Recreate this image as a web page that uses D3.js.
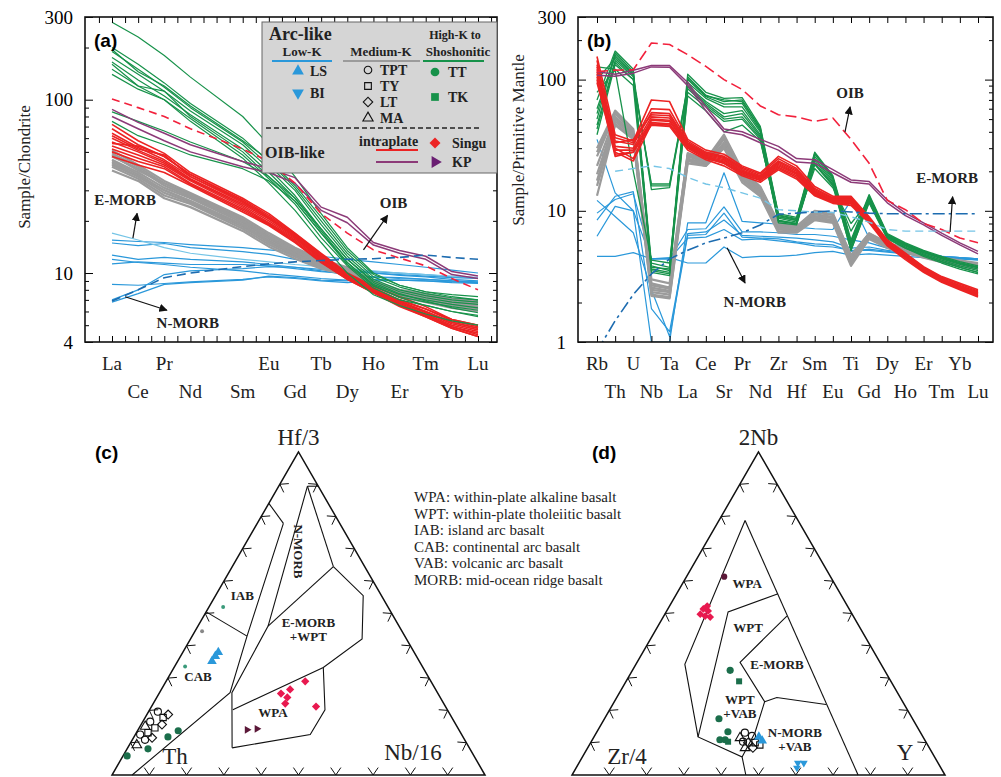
<!DOCTYPE html>
<html>
<head>
<meta charset="utf-8">
<script src="https://cdn.jsdelivr.net/npm/d3@7"></script>
<style>
  body { margin: 0; background: #fff; }
  svg text { font-family: "Liberation Serif", "Times New Roman", serif; }
</style>
</head>
<body>
<div class="container"></div>
<script>
// ---------- (a) chondrite-normalised REE ----------
const reeElements = ['La', 'Ce', 'Pr', 'Nd', 'Pm', 'Sm', 'Eu', 'Gd', 'Tb', 'Dy', 'Ho', 'Er', 'Tm', 'Yb', 'Lu'];
const reeSampled = ['La', 'Ce', 'Pr', 'Nd', 'Sm', 'Eu', 'Gd', 'Tb', 'Dy', 'Ho', 'Er', 'Tm', 'Yb', 'Lu'];
const reeTopLabels = ['La', 'Pr', 'Eu', 'Tb', 'Ho', 'Tm', 'Lu'];
const reeBottomLabels = ['Ce', 'Nd', 'Sm', 'Gd', 'Dy', 'Er', 'Yb'];
const chondriteTicks = [4, 10, 100, 300];
const chondriteMinor = [5, 6, 7, 8, 9, 20, 30, 40, 50, 60, 70, 80, 90, 200];

const reeLowK = [
  [15.5, 15.2, 15, 14.6, 14, 13.6, 13.2, 12.5, 12, 11.6, 11.2, 10.8, 10.4, 10],
  [14.9, 14.4, 14.8, 14, 13.3, 12.8, 12, 11.2, 10.5, 10, 9.7, 9.5, 9.2, 9.0],
  [12.7, 12.0, 12.3, 12, 11.6, 11.2, 10.8, 10.3, 9.8, 9.5, 9.3, 9.2, 9.0, 8.8],
  [12.0, 11.5, 11.2, 10.8, 10.3, 9.9, 9.6, 9.3, 9.1, 9.2, 9.1, 9.0, 8.9, 8.8],
  [8.6, 8.5, 8.7, 8.9, 9.2, 9.5, 9.3, 9.0, 8.8, 9.0, 9.1, 9.0, 8.8, 8.7],
  [6.8, 7.6, 8.6, 8.8, 9.1, 9.6, 9.4, 9.1, 9.0, 9.5, 9.4, 9.2, 9.0, 8.9],
  [7.0, 8.0, 9.8, 10.3, 10.6, 10.9, 10.8, 10.5, 10.2, 10.0, 9.8, 9.6, 9.4, 9.3],
  [11.3, 11.6, 11.4, 11.2, 11.2, 11, 10.6, 10.2, 10.0, 10.2, 10.0, 9.8, 9.5, 9.4]
];
const reeMediumK = [
  [51, 42, 34, 29, 21, 17, 14, 12, 10.8, 9.0, 8.0, 7.6, 7.1, 6.9],
  [49, 41, 33, 28.5, 20.5, 16.6, 13.7, 11.8, 10.6, 8.9, 7.9, 7.4, 7.0, 6.8],
  [47, 40, 32, 27.5, 20, 16.2, 13.4, 11.6, 10.4, 8.8, 7.8, 7.3, 6.9, 6.6],
  [45, 38, 31, 27, 19.5, 15.8, 13.2, 11.4, 10.2, 8.7, 7.7, 7.2, 6.8, 6.5],
  [44, 37, 30, 26, 19, 15.4, 13, 11.2, 10.0, 8.6, 7.6, 7.1, 6.7, 6.4],
  [42, 36, 29, 25.5, 18.5, 15, 12.7, 11, 9.9, 8.5, 7.5, 7.0, 6.6, 6.3],
  [41, 35, 28, 25, 18, 14.6, 12.4, 10.8, 9.8, 8.4, 7.4, 6.9, 6.5, 6.2],
  [39, 34, 27, 24, 17.5, 14.2, 12.1, 10.6, 9.7, 8.3, 7.3, 6.8, 6.3, 6.0],
  [48, 39, 33, 28, 20, 16, 13.3, 11.5, 10.3, 8.8, 7.8, 7.3, 6.9, 6.7],
  [43, 36, 30, 26, 19, 15.2, 12.8, 11.1, 9.9, 8.5, 7.5, 7.0, 6.5, 6.2]
];
const reeSingu = [
  [72, 58, 49, 38, 27, 22, 17, 13, 10, 8.4, 7.3, 6.4, 5.4, 5.0],
  [68, 55, 47, 37, 26.5, 21.5, 16.8, 12.8, 9.9, 8.2, 7.0, 6.2, 5.3, 4.9],
  [64, 53, 45, 36, 26, 21, 16.5, 12.5, 9.8, 8.1, 6.9, 6.0, 5.2, 4.8],
  [60, 51, 44, 35, 25, 20.5, 16.2, 12.3, 9.6, 8.0, 6.8, 5.9, 5.1, 4.7],
  [57, 50, 43, 34.5, 24.5, 20, 16, 12.1, 9.5, 7.9, 6.7, 5.8, 5.0, 4.6],
  [54, 48, 42, 34, 24, 19.5, 15.8, 12, 9.4, 7.8, 6.6, 5.7, 4.9, 4.5],
  [52, 46, 41, 33, 23.5, 19.2, 15.5, 11.8, 9.3, 7.8, 6.5, 5.7, 4.9, 4.4],
  [50, 44, 40, 32.5, 23, 19, 15.2, 11.6, 9.2, 7.7, 6.5, 5.6, 4.8, 4.3],
  [47, 42, 38, 32, 22.5, 18.8, 15, 11.5, 9.2, 7.7, 6.4, 5.6, 4.8, 4.3],
  [56, 54, 47, 37, 26, 21, 16.5, 12.6, 9.8, 8.1, 7.0, 6.2, 5.4, 5.0],
  [62, 52, 48, 36, 25.5, 20.8, 16.5, 12.4, 9.7, 8.0, 6.8, 6.0, 5.2, 4.8]
];
const reeHighK = [
  [280, 230, 180, 135, 80, 55, 36, 22, 14, 10, 8.5, 7.8, 7.3, 7.0],
  [200, 160, 125, 95, 60, 44, 31, 20, 13, 9.5, 8.3, 7.6, 7.2, 7.0],
  [190, 150, 118, 90, 57, 42, 30, 19, 12.5, 9.2, 8.0, 7.4, 7.0, 6.8],
  [175, 140, 112, 86, 55, 40, 28, 18, 12, 9.0, 7.8, 7.2, 6.8, 6.6],
  [165, 130, 105, 82, 52, 38, 27, 17.5, 11.5, 8.6, 7.5, 7.0, 6.6, 6.3],
  [150, 120, 112, 80, 50, 36, 26, 17, 11.2, 8.4, 7.3, 6.8, 6.4, 6.1],
  [140, 115, 100, 78, 48, 35, 25, 16, 11, 8.2, 7.0, 6.5, 6.0, 5.7],
  [85, 75, 66, 57, 44, 36, 27, 18, 12, 8.8, 7.6, 6.9, 6.3, 5.9],
  [75, 62, 55, 48, 40, 34, 26, 17, 11.5, 8.5, 7.2, 6.5, 6.0, 5.6],
  [195, 145, 120, 92, 58, 45, 32, 21, 13.5, 9.8, 8.5, 7.8, 7.5, 7.3],
  [160, 120, 100, 75, 46, 33, 23, 15, 10, 7.5, 6.5, 5.8, 5.3, 5.0]
];
const reeKP = [
  [88, 74, 64, 55, 44, 40, 35.5, 24, 21, 15, 13.5, 12.5, 10.2, 9.6],
  [80, 68, 58, 50, 41, 38, 33, 23, 19.5, 14.5, 13, 12, 9.8, 9.3]
];
const reeOIB = [[101, 90, 80, 68, 52, 44, 33, 22, 17, 13.6, 12.2, 11, 9.3, 8.0]];
const reeEMORB = [[17, 15.5, 14, 13, 12, 11.6, 11.2, 10.9, 10.6, 10.3, 10, 9.8, 9.6, 9.4]];
const reeNMORB = [[6.9, 8.0, 9.4, 10.0, 10.9, 11.3, 11.6, 11.8, 12, 12.1, 12.3, 12.7, 12.3, 12.0]];

// ---------- (b) primitive-mantle-normalised ----------
const pmElements = ['Rb', 'Th', 'U', 'Nb', 'Ta', 'La', 'Ce', 'Sr', 'Pr', 'Nd', 'Zr', 'Hf', 'Sm', 'Eu', 'Ti', 'Gd', 'Dy', 'Ho', 'Er', 'Tm', 'Yb', 'Lu'];
const pmTopLabels = ['Rb', 'U', 'Ta', 'Ce', 'Pr', 'Zr', 'Sm', 'Ti', 'Dy', 'Er', 'Yb'];
const pmBottomLabels = ['Th', 'Nb', 'La', 'Sr', 'Nd', 'Hf', 'Eu', 'Gd', 'Ho', 'Tm', 'Lu'];
const mantleTicks = [1, 10, 100, 300];
const mantleMinor = [2, 3, 4, 5, 6, 7, 8, 9, 20, 30, 40, 50, 60, 70, 80, 90, 200];

const pmLowK = [
  [35, 13.7, 10, 1.0, 1.0, 8.1, 8.1, 19.5, 8.3, 8.1, 7.9, 7.5, 7.3, 7.2, 12, 6.2, 5.4, 5.0, 4.7, 4.5, 4.4, 4.3],
  [9.6, 12.2, 13.5, 4.3, 4.3, 7.2, 7.3, 10.7, 6.9, 6.9, 6.8, 6.6, 6.6, 6.4, 6.0, 5.7, 5.2, 4.9, 4.7, 4.5, 4.4, 4.3],
  [8.5, 12.9, 14, 1.8, 1.2, 6.7, 6.9, 8.5, 6.5, 6.4, 6.3, 6.2, 6.0, 5.8, 5.2, 5.3, 5.0, 4.8, 4.6, 4.5, 4.4, 4.3],
  [6.4, 10.8, 10, 4.3, 4.3, 6.2, 6.3, 7.2, 6.0, 6.1, 5.9, 5.7, 5.4, 5.3, 5.0, 5.0, 4.85, 4.7, 4.55, 4.45, 4.35, 4.3],
  [4.5, 4.5, 4.8, 4.3, 4.4, 4.0, 4.0, 5.3, 4.4, 4.5, 4.5, 4.6, 4.8, 4.9, 4.6, 4.7, 4.6, 4.5, 4.4, 4.3, 4.3, 4.25],
  [12, 9.05, 6.8, 2.5, 1.1, 6.5, 6.6, 9.6, 6.3, 6.2, 6.1, 5.8, 5.6, 5.5, 4.9, 5.1, 4.9, 4.7, 4.5, 4.4, 4.3, 4.2]
];
const pmMediumK = [
  [30, 58, 42, 2.8, 2.6, 27.5, 24.5, 38, 20.5, 15.3, 8.1, 7.6, 10, 9.6, 4.5, 6.75, 5.7, 5.2, 4.75, 4.4, 4.2, 4.0],
  [26, 55, 40, 2.7, 2.55, 26.5, 24, 36, 19.8, 14.8, 7.8, 7.4, 9.7, 9.3, 4.4, 6.6, 5.6, 5.1, 4.7, 4.3, 4.1, 3.9],
  [22, 52, 39, 2.6, 2.45, 26, 23.5, 35, 19.2, 14.4, 7.6, 7.2, 9.4, 9.0, 4.25, 6.5, 5.5, 5.0, 4.6, 4.25, 4.0, 3.85],
  [19, 50, 38, 2.5, 2.4, 25, 23, 33, 18.5, 14, 7.4, 7.1, 9.1, 8.8, 4.1, 6.4, 5.4, 4.95, 4.55, 4.2, 3.95, 3.8],
  [17, 48, 37, 2.4, 2.3, 24.5, 22.5, 32, 17.8, 13.6, 7.2, 7.0, 8.9, 8.5, 4.0, 6.3, 5.35, 4.9, 4.5, 4.15, 3.9, 3.75],
  [15.5, 46, 36, 2.3, 2.2, 24, 22, 31, 17.2, 13.2, 7.0, 6.9, 8.7, 8.3, 3.9, 6.2, 5.3, 4.85, 4.45, 4.1, 3.85, 3.7],
  [13, 45, 35, 2.25, 2.15, 23, 22, 30, 16.5, 12.9, 6.8, 6.8, 8.5, 8.1, 3.8, 6.1, 5.2, 4.8, 4.4, 4.05, 3.8, 3.6],
  [28, 56, 41, 3.0, 2.8, 27, 24, 37, 20, 15, 8.0, 7.5, 9.8, 9.4, 4.6, 6.7, 5.65, 5.15, 4.7, 4.35, 4.1, 3.95]
];
const pmSingu = [
  [150, 38, 34, 70, 68, 35, 29, 27, 22, 19.4, 26, 22, 15.3, 12.9, 12.9, 9.0, 6.0, 4.75, 3.75, 3.15, 2.8, 2.5],
  [130, 34, 32, 56, 55, 33, 27.5, 25.5, 21, 18.5, 24, 20.5, 14.5, 12.4, 12.4, 8.7, 5.8, 4.6, 3.65, 3.05, 2.7, 2.4],
  [120, 31, 30, 52, 51, 32, 26.5, 24.5, 20, 18, 23, 19.5, 14, 12.0, 12.0, 8.5, 5.7, 4.5, 3.6, 3.0, 2.65, 2.35],
  [115, 29, 29, 49, 48, 31, 25.5, 23.5, 19.5, 17.5, 22, 19, 13.6, 11.8, 11.6, 8.4, 5.6, 4.4, 3.5, 2.95, 2.6, 2.3],
  [110, 27, 28, 47, 46, 30, 25, 23, 19, 17, 21, 18, 13.2, 11.6, 11.3, 8.3, 5.5, 4.35, 3.45, 2.9, 2.55, 2.25],
  [100, 26, 28, 45, 44, 29, 24.5, 22, 18.5, 16.5, 20.5, 17.5, 13, 11.4, 11.0, 8.1, 5.4, 4.25, 3.4, 2.85, 2.5, 2.2],
  [125, 36, 33, 60, 59, 34, 28, 26, 21.5, 19, 25, 21, 14.8, 12.6, 12.6, 8.8, 5.9, 4.7, 3.7, 3.1, 2.75, 2.45],
  [140, 30, 25, 50, 49, 31.5, 26, 24, 19.8, 17.8, 22.5, 19.2, 13.8, 11.9, 11.8, 8.5, 5.65, 4.45, 3.55, 2.95, 2.6, 2.3],
  [105, 33, 35, 54, 53, 32.5, 27, 25, 20.5, 18.2, 23.5, 20, 14.2, 12.2, 12.2, 8.6, 5.75, 4.55, 3.6, 3.0, 2.65, 2.35],
  [95, 28, 24, 46, 45, 30.5, 25.5, 23, 19, 17.2, 21.5, 18.5, 13.4, 11.7, 11.5, 8.35, 5.55, 4.4, 3.5, 2.9, 2.55, 2.25]
];
const pmHighK = [
  [55, 160, 115, 3.6, 3.4, 105, 76, 68, 70, 42, 9.2, 8.6, 27, 18, 5.8, 13, 6.6, 5.6, 4.9, 4.4, 4.0, 3.7],
  [60, 150, 110, 3.8, 3.5, 100, 74, 65, 66, 41, 9.0, 8.4, 26, 17.5, 5.6, 12.6, 6.5, 5.5, 4.8, 4.3, 3.9, 3.6],
  [45, 140, 105, 3.4, 3.2, 95, 72, 62, 62, 40, 8.8, 8.2, 25, 17, 5.4, 12.3, 6.4, 5.4, 4.7, 4.2, 3.8, 3.5],
  [70, 165, 120, 4.0, 3.7, 110, 80, 72, 73, 44, 9.5, 8.9, 28, 18.5, 6.0, 13.3, 6.7, 5.7, 5.0, 4.5, 4.1, 3.8],
  [38, 130, 100, 16, 16, 90, 68, 55, 58, 38, 8.5, 8.0, 24, 16.5, 5.2, 12, 6.3, 5.3, 4.6, 4.1, 3.7, 3.4],
  [42, 135, 100, 15.5, 15.5, 88, 66, 52, 55, 37, 8.3, 7.9, 23, 16, 5.0, 11.7, 6.2, 5.2, 4.6, 4.1, 3.7, 3.4],
  [100, 145, 108, 14.5, 15, 85, 64, 50, 52, 36, 8.1, 7.8, 22.5, 15.5, 5.0, 11.5, 6.1, 5.2, 4.5, 4.0, 3.6, 3.3],
  [125, 120, 90, 3.5, 3.3, 80, 62, 48, 50, 35, 8.4, 8.0, 23, 15.8, 7.0, 12.2, 6.4, 5.5, 4.9, 4.4, 4.0, 3.7],
  [80, 118, 20, 4.2, 4.0, 75, 58, 40, 45, 34, 9.0, 8.5, 21, 15, 8.0, 11.8, 6.3, 5.4, 4.8, 4.4, 4.0, 3.7],
  [50, 155, 112, 3.7, 3.6, 102, 75, 70, 68, 43, 9.3, 8.7, 27.5, 18, 5.7, 12.8, 6.5, 5.6, 4.9, 4.4, 4.0, 3.7]
];
const pmKP = [
  [115, 110, 118, 128, 128, 95, 62, 42, 40, 35, 31, 25, 24.5, 20.6, 17.2, 16.7, 12.1, 9.6, 8.1, 6.75, 5.7, 4.9],
  [108, 106, 112, 125, 124, 90, 58, 40, 38, 33, 29, 23.5, 23, 19.5, 16.5, 16, 11.5, 9.2, 7.8, 6.5, 5.5, 4.7]
];
const pmOIB = [[115, 118, 119, 190, 185, 155, 126, 100, 84, 63, 54, 52, 48, 51, 35, 23, 12, 10.2, 8.0, 7.2, 6.2, 5.7]];
const pmEMORB = [[null, 20, 21, 22, 21, 18, 16, 15, 13.7, 12.5, 10.2, 10, 9.8, 9.7, 9.0, 8.2, 7.2, 7.0, 7.0, 7.0, 7.0, 7.0]];
const pmNMORB = [[0.85, 1.45, 2.3, 3.3, 4.3, 5.0, 5.7, 6.2, 6.8, 7.8, 9.4, 9.6, 9.8, 10.0, 9.8, 9.6, 9.5, 9.5, 9.5, 9.5, 9.5, 9.5]];

// ---------- (c) Hf/3 - Th - Nb/16, percent [Hf/3, Th, Nb/16] ----------
const hfFieldLines = [
  [[84.1, 15.9, 0], [77.9, 15.1, 7.0]],
  [[77.9, 15.1, 7.0], [43.0, 42.3, 14.7], [25.5, 55.6, 18.9], [0, 94.6, 5.4]],
  [[50.5, 49.5, 0], [43.0, 42.3, 14.7]],
  [[89.4, 2.9, 7.7], [46.1, 35.1, 18.8], [25.5, 55.1, 19.4], [8.4, 63.6, 28.0]],
  [[8.4, 63.6, 28.0], [12.5, 40.6, 46.9], [20.2, 32.8, 47.0], [33.3, 26.7, 40.0]],
  [[20.2, 57.5, 22.3], [33.3, 26.7, 40.0], [42.1, 11.9, 46.0], [55.5, 4.9, 39.6], [64.5, 8.4, 27.1]],
  [[89.4, 2.9, 7.7], [64.5, 8.4, 27.1]],
  [[46.1, 35.1, 18.8], [64.5, 8.4, 27.1]],
  [[89.4, 2.9, 7.7], [89.4, 0, 10.6]]
];
const hfFieldNames = [['IAB'], ['CAB'], ['N-MORB'], ['E-MORB', '+WPT'], ['WPA']];
const hfFieldSpots = [[55.5, 37.3, 7.2], [30.5, 61.7, 7.8], [69.2, 15.4, 15.4], [44.9, 24.9, 30.2], [19.3, 47.2, 33.5]];
const hfTPT = [[12.5, 86.2, 1.3], [16.5, 81.5, 2.0], [19.6, 77.9, 2.5], [10.9, 85.7, 3.4]];
const hfTY = [[14.6, 81.2, 4.2], [17.8, 77.4, 4.8], [13.1, 83.8, 3.1]];
const hfLT = [[11.5, 83.5, 5.0], [15.6, 78.8, 5.6], [18.7, 75.6, 5.7]];
const hfMA = [[9.3, 88.7, 2.0], [15.0, 83.6, 1.4]];
const hfTT = [[5.9, 93.0, 1.1], [8.1, 86.3, 5.6], [11.8, 79.1, 9.1], [13.7, 75.4, 10.9]];
const hfTTsmall = [[33.6, 63.6, 2.8], [52.0, 44.2, 3.8]];
const hfLS = [[36.8, 53.9, 9.3], [38.0, 52.5, 9.5], [35.2, 55.6, 9.2]];
const hfBI = [[44.5, 53.6, 1.9]];
const hfSingu = [[29.0, 33.7, 37.3], [26.5, 39.0, 34.5], [25.2, 42.1, 32.7], [24.0, 41.0, 35.0], [22.1, 42.5, 35.4], [21.2, 34.7, 44.1]];
const hfKP = [[14.0, 56.8, 29.2], [14.3, 54.0, 31.7]];

// ---------- (d) 2Nb - Zr/4 - Y, percent [2Nb, Zr/4, Y] ----------
const nbFieldLines = [
  [[78.8, 14.2, 7.0], [34.3, 52.6, 13.1], [11.8, 60.3, 27.9], [5.6, 51.6, 42.8], [0, 53.4, 46.6]],
  [[78.8, 14.2, 7.0], [0, 23.3, 76.7]],
  [[56.1, 16.7, 27.2], [50.5, 32.9, 16.6], [11.8, 60.3, 27.9]],
  [[49.2, 17.8, 33.0], [34.9, 37.5, 27.6], [22.7, 37.0, 40.3], [13.1, 44.4, 42.5], [5.6, 51.6, 42.8]],
  [[22.7, 37.0, 40.3], [24.0, 33.1, 42.9], [21.8, 21.0, 57.2]]
];
const nbFieldNames = [['WPA'], ['WPT'], ['E-MORB'], ['WPT', '+VAB'], ['N-MORB', '+VAB']];
const nbFieldSpots = [[59.2, 23.4, 17.4], [45.8, 29.9, 24.3], [34.3, 27.9, 37.8], [21.2, 44.4, 34.4], [10.9, 34.8, 54.3]];
const nbTPT = [[13.1, 47.1, 39.8], [12.1, 45.7, 42.2], [10.3, 49.0, 40.7]];
const nbTY = [[10.0, 45.9, 44.1], [9.3, 45.0, 45.7]];
const nbLT = [[10.0, 47.8, 42.2], [8.4, 47.3, 44.3]];
const nbMA = [[8.4, 49.4, 42.2], [11.5, 49.2, 39.3]];
const nbTT = [[32.4, 41.4, 26.2], [17.4, 51.9, 30.7], [13.4, 51.5, 35.1], [10.9, 54.9, 34.2], [10.9, 53.5, 35.6]];
const nbTK = [[29.0, 40.7, 30.3], [10.3, 53.0, 36.7]];
const nbLS = [[11.8, 44.0, 44.2], [10.6, 43.7, 45.7]];
const nbBI = [[3.7, 37.6, 58.7], [3.7, 36.0, 60.3], [2.2, 38.6, 59.2]];
const nbSingu = [[51.4, 39.1, 9.5], [50.8, 38.1, 11.1], [49.2, 39.7, 11.1], [48.9, 38.5, 12.6], [49.8, 40.7, 9.5], [52.3, 37.6, 10.1]];
const nbKP = [[61.4, 28.5, 10.1]];

const abbreviations = [
  'WPA: within-plate alkaline basalt',
  'WPT: within-plate tholeiitic basalt',
  'IAB: island arc basalt',
  'CAB: continental arc basalt',
  'VAB: volcanic arc basalt',
  'MORB: mid-ocean ridge basalt'
];

const colors = {
  blue: '#2a98da', gray: '#9b9b9b', red: '#ec2323', green: '#17924a', purple: '#8c3a78',
  oib: '#f2213c', nmorb: '#1d6cb0', emorbLight: '#74c4e6', darkGreen: '#1b6e4b', pink: '#e8194f', maroon: '#5b1838'
};

const svg = d3.select('.container').append('svg').attr('width', 1001).attr('height', 777);
const defs = svg.append('defs');
defs.append('marker').attr('id', 'arrow').attr('viewBox', '0 0 10 10').attr('refX', 9).attr('refY', 5)
  .attr('markerWidth', 7).attr('markerHeight', 7).attr('orient', 'auto')
  .append('path').attr('d', 'M0,0L10,5L0,10z').attr('fill', '#111');

const drawSymbol = (g, kind, cx, cy, size, fill, stroke) => {
  const shape = kind === 'circle' ? d3.symbolCircle : (kind === 'square' || kind === 'diamond') ? d3.symbolSquare : d3.symbolTriangle;
  const rot = kind === 'down' ? 180 : kind === 'right' ? 90 : kind === 'diamond' ? 45 : 0;
  g.append('path')
    .attr('d', d3.symbol(shape, size)())
    .attr('transform', `translate(${cx},${cy}) rotate(${rot})`)
    .attr('fill', fill)
    .attr('stroke', stroke || 'none')
    .attr('stroke-width', 1.1);
};

const drawSpider = opts => {
  const top = 17;
  const bottom = 342;
  const x = d3.scaleLinear().domain([0, opts.elements.length - 1]).range(opts.xRange);
  const y = d3.scaleLog().domain(opts.yDomain).range([bottom, top]);
  const panel = svg.append('g').attr('class', 'panel-' + opts.letter);

  defs.append('clipPath').attr('id', 'clip-' + opts.letter)
    .append('rect').attr('x', opts.left).attr('y', top).attr('width', opts.right - opts.left).attr('height', bottom - top);
  const plot = panel.append('g').attr('clip-path', `url(#clip-${opts.letter})`);

  opts.layers.forEach(layer => {
    const line = d3.line().defined(d => d.v != null).x(d => x(d.i)).y(d => y(d.v));
    layer.series.forEach(s => {
      plot.append('path')
        .datum(opts.sampled.map((el, k) => ({ i: opts.elements.indexOf(el), v: s[k] })))
        .attr('d', line)
        .attr('fill', 'none')
        .attr('stroke', layer.color)
        .attr('stroke-width', layer.width)
        .attr('stroke-dasharray', layer.dash || null)
        .attr('stroke-linejoin', 'round')
        .attr('opacity', layer.opacity || 1);
    });
  });

  const clean = g => g.select('.domain').remove();
  panel.append('g').attr('transform', `translate(${opts.left},0)`)
    .call(d3.axisLeft(y).tickValues(opts.majorTicks).tickFormat(d3.format('d')).tickSize(-8).tickPadding(12))
    .call(clean)
    .attr('font-family', '"Liberation Serif", serif').attr('font-size', 19);
  panel.append('g').attr('transform', `translate(${opts.left},0)`)
    .call(d3.axisLeft(y).tickValues(opts.minorTicks).tickFormat('').tickSize(-4)).call(clean);
  panel.append('g').attr('transform', `translate(${opts.right},0)`)
    .call(d3.axisRight(y).tickValues(opts.majorTicks).tickFormat('').tickSize(-8)).call(clean);
  panel.append('g').attr('transform', `translate(${opts.right},0)`)
    .call(d3.axisRight(y).tickValues(opts.minorTicks).tickFormat('').tickSize(-4)).call(clean);
  panel.append('g').attr('transform', `translate(0,${top})`)
    .call(d3.axisTop(x).tickValues(opts.xTicks).tickFormat('').tickSize(-6)).call(clean);
  panel.append('g').attr('transform', `translate(0,${bottom})`)
    .call(d3.axisBottom(x).tickValues(opts.xTicks).tickFormat('').tickSize(-6)).call(clean);

  panel.append('rect').attr('x', opts.left).attr('y', top).attr('width', opts.right - opts.left).attr('height', bottom - top)
    .attr('fill', 'none').attr('stroke', '#111').attr('stroke-width', 1.6);

  const labelRow = (names, baseline) => panel.append('g').selectAll('text').data(names).enter().append('text')
    .attr('x', d => x(opts.elements.indexOf(d)))
    .attr('y', baseline)
    .attr('text-anchor', 'middle')
    .attr('font-size', 19)
    .attr('fill', '#222')
    .text(d => d);
  labelRow(opts.topLabels, 370);
  labelRow(opts.bottomLabels, 398);

  panel.append('text')
    .attr('transform', `translate(${opts.titleX},${opts.titleY}) rotate(-90)`)
    .attr('text-anchor', 'middle').attr('font-size', 17).attr('fill', '#222')
    .text(opts.title);

  panel.append('text').attr('x', opts.left + 9).attr('y', 47)
    .attr('font-family', '"Liberation Sans", Arial, sans-serif').style('font-family', '"Liberation Sans", Arial, sans-serif')
    .attr('font-weight', 'bold').attr('font-size', 19).text(`(${opts.letter})`);

  opts.notes.forEach(n => {
    panel.append('line')
      .attr('x1', x(n.from[0])).attr('y1', y(n.from[1]))
      .attr('x2', x(n.to[0])).attr('y2', y(n.to[1]))
      .attr('stroke', '#111').attr('stroke-width', 1.2).attr('marker-end', 'url(#arrow)');
    panel.append('text').attr('x', x(n.at[0])).attr('y', y(n.at[1])).attr('dy', '0.35em')
      .attr('text-anchor', 'middle').attr('font-weight', 'bold').attr('font-size', 15).attr('fill', '#222')
      .text(n.text);
  });
  return panel;
};

drawSpider({
  letter: 'a', left: 85, right: 497, xRange: [112, 478],
  elements: reeElements, sampled: reeSampled, yDomain: [4, 300],
  majorTicks: chondriteTicks, minorTicks: chondriteMinor,
  xTicks: d3.range(-0.5, 14.6, 0.5), topLabels: reeTopLabels, bottomLabels: reeBottomLabels,
  title: 'Sample/Chondrite', titleX: 30, titleY: 167,
  layers: [
    { series: reeLowK, color: colors.blue, width: 1.2 },
    { series: reeEMORB, color: colors.emorbLight, width: 1.2 },
    { series: reeMediumK, color: colors.gray, width: 2.2 },
    { series: reeSingu, color: colors.red, width: 1.6 },
    { series: reeHighK, color: colors.green, width: 1.2 },
    { series: reeKP, color: colors.purple, width: 1.5 },
    { series: reeOIB, color: colors.oib, width: 1.6, dash: '8,5' },
    { series: reeNMORB, color: colors.nmorb, width: 1.6, dash: '9,5' }
  ],
  notes: [
    { text: 'E-MORB', at: [0.5, 26.3], from: [0.8, 15.9], to: [0.96, 22.1] },
    { text: 'N-MORB', at: [2.9, 5.2], from: [0.5, 7.3], to: [2.1, 6.1] },
    { text: 'OIB', at: [10.77, 25.3], from: [9.62, 13.6], to: [10.54, 21.5] }
  ]
});

drawSpider({
  letter: 'b', left: 578, right: 993, xRange: [597, 978],
  elements: pmElements, sampled: pmElements, yDomain: [1, 300],
  majorTicks: mantleTicks, minorTicks: mantleMinor,
  xTicks: d3.range(0, 22), topLabels: pmTopLabels, bottomLabels: pmBottomLabels,
  title: 'Sample/Primitive Mantle', titleX: 524, titleY: 140,
  layers: [
    { series: pmLowK, color: colors.blue, width: 1.2 },
    { series: pmMediumK, color: colors.gray, width: 2.2 },
    { series: pmHighK, color: colors.green, width: 1.3 },
    { series: pmSingu, color: colors.red, width: 1.6 },
    { series: pmKP, color: colors.purple, width: 1.5 },
    { series: pmOIB, color: colors.oib, width: 1.6, dash: '11,5' },
    { series: pmEMORB, color: colors.emorbLight, width: 1.4, dash: '8,5' },
    { series: pmNMORB, color: colors.nmorb, width: 1.6, dash: '12,4,3,4' }
  ],
  notes: [
    { text: 'OIB', at: [13.95, 79.5], from: [13.67, 40], to: [13.95, 62] },
    { text: 'E-MORB', at: [19.3, 17.9], from: [19.46, 6.9], to: [19.6, 12.8] },
    { text: 'N-MORB', at: [8.7, 2.02], from: [7.17, 5.22], to: [8.16, 2.82] }
  ]
});

// legend of panel (a)
const legend = svg.append('g').attr('font-weight', 'bold').attr('fill', '#222');
legend.append('rect').attr('x', 262).attr('y', 22).attr('width', 235).attr('height', 151)
  .attr('fill', '#d5d5d5').attr('stroke', '#666').attr('stroke-width', 1);
legend.append('text').attr('x', 269).attr('y', 40).attr('font-size', 18).text('Arc-like');
legend.append('text').attr('x', 302).attr('y', 56).attr('font-size', 13).attr('text-anchor', 'middle').text('Low-K');
legend.append('text').attr('x', 381).attr('y', 56).attr('font-size', 13).attr('text-anchor', 'middle').text('Medium-K');
legend.append('text').attr('x', 455).attr('y', 39).attr('font-size', 12).attr('text-anchor', 'middle').text('High-K to');
legend.append('text').attr('x', 458).attr('y', 56).attr('font-size', 13).attr('text-anchor', 'middle').text('Shoshonitic');
[[272, 332, colors.blue], [343, 420, colors.gray], [423, 484, colors.green]].forEach(([a, b, c]) =>
  legend.append('line').attr('x1', a).attr('x2', b).attr('y1', 61).attr('y2', 61).attr('stroke', c).attr('stroke-width', 2.2));
const legendItems = [
  ['up', 298, 71, colors.blue, null, 'LS', 310],
  ['down', 298, 93, colors.blue, null, 'BI', 310],
  ['circle', 368, 70, 'none', '#111', 'TPT', 380],
  ['square', 368, 86, 'none', '#111', 'TY', 380],
  ['diamond', 368, 102, 'none', '#111', 'LT', 380],
  ['up', 368, 118, 'none', '#111', 'MA', 380],
  ['circle', 435, 72, colors.green, null, 'TT', 448],
  ['square', 435, 97, colors.green, null, 'TK', 448],
  ['diamond', 435, 143, colors.red, null, 'Singu', 452],
  ['right', 435, 162, '#6a1e72', null, 'KP', 452]
];
legendItems.forEach(([kind, cx, cy, fill, stroke, label, tx]) => {
  drawSymbol(legend, kind, cx, cy, stroke ? 45 : 60, fill, stroke);
  legend.append('text').attr('x', tx).attr('y', cy + 5).attr('font-size', 14).text(label);
});
legend.append('line').attr('x1', 266).attr('x2', 482).attr('y1', 128).attr('y2', 128)
  .attr('stroke', '#222').attr('stroke-width', 1.4).attr('stroke-dasharray', '5,3');
legend.append('text').attr('x', 265).attr('y', 158).attr('font-size', 16).text('OIB-like');
legend.append('text').attr('x', 359).attr('y', 146).attr('font-size', 14).text('intraplate');
legend.append('line').attr('x1', 376).attr('x2', 418).attr('y1', 150).attr('y2', 150).attr('stroke', colors.red).attr('stroke-width', 2);
legend.append('line').attr('x1', 376).attr('x2', 418).attr('y1', 162).attr('y2', 162).attr('stroke', colors.purple).attr('stroke-width', 2);

// ---------- ternary panels ----------
const drawTernary = opts => {
  const h = Math.sqrt(3) / 2;
  const u = d3.scaleLinear().domain([0, 1]).range([opts.left, opts.left + 373]);
  const v = d3.scaleLinear().domain([0, h]).range([775, 775 - 373 * h]);
  const pos = c => {
    const s = c[0] + c[1] + c[2];
    const t = c[0] / s;
    const r = c[2] / s;
    return [u(r + t / 2), v(t * h)];
  };
  const line = d3.line().x(d => pos(d)[0]).y(d => pos(d)[1]);
  const panel = svg.append('g').attr('class', 'ternary-' + opts.letter);

  const apex = [100, 0, 0];
  const leftC = [0, 100, 0];
  const rightC = [0, 0, 100];
  panel.append('path').attr('d', line([apex, leftC, rightC, apex]) + 'Z')
    .attr('fill', 'none').attr('stroke', '#111').attr('stroke-width', 1.5);

  // chevron ticks every 10 %
  const centre = pos([100 / 3, 100 / 3, 100 / 3]);
  [[leftC, rightC], [rightC, apex], [apex, leftC]].forEach(([a, b]) => {
    const pa = pos(a);
    const pb = pos(b);
    const len = Math.hypot(pb[0] - pa[0], pb[1] - pa[1]);
    let nx = -(pb[1] - pa[1]) / len;
    let ny = (pb[0] - pa[0]) / len;
    if ((centre[0] - pa[0]) * nx + (centre[1] - pa[1]) * ny < 0) { nx = -nx; ny = -ny; }
    d3.range(1, 10).forEach(k => {
      const px = pa[0] + (pb[0] - pa[0]) * k / 10;
      const py = pa[1] + (pb[1] - pa[1]) * k / 10;
      const arm = ang => {
        const c = Math.cos(ang), s = Math.sin(ang);
        return [px + 9 * (nx * c - ny * s), py + 9 * (nx * s + ny * c)];
      };
      const a1 = arm(0.6);
      const a2 = arm(-0.6);
      panel.append('path').attr('d', `M${a1[0]},${a1[1]}L${px},${py}L${a2[0]},${a2[1]}`)
        .attr('fill', 'none').attr('stroke', '#111').attr('stroke-width', 1);
    });
  });

  opts.fields.forEach(f => panel.append('path').attr('d', line(f))
    .attr('fill', 'none').attr('stroke', '#111').attr('stroke-width', 1.1));

  opts.fieldNames.forEach((lines, k) => {
    const p = pos(opts.fieldSpots[k]);
    const t = panel.append('text').attr('font-weight', 'bold').attr('font-size', 13).attr('fill', '#222')
      .attr('text-anchor', 'middle')
      .attr('transform', `translate(${p[0]},${p[1]}) rotate(${opts.rotated === k ? 90 : 0})`);
    lines.forEach((s, j) => t.append('tspan').attr('x', 0)
      .attr('y', (j - (lines.length - 1) / 2) * 14 + 4.5).text(s));
  });

  opts.groups.forEach(grp => grp.data.forEach(c => {
    const p = pos(c);
    drawSymbol(panel, grp.kind, p[0], p[1], grp.size, grp.fill, grp.stroke);
  }));

  const pa = pos(apex), pl = pos(leftC), pr = pos(rightC);
  panel.append('text').attr('x', pa[0]).attr('y', pa[1] - 7).attr('text-anchor', 'middle')
    .attr('font-size', 23).attr('fill', '#222').text(opts.corners[0]);
  panel.append('text').attr('x', pl[0] + opts.cornerShift[0]).attr('y', pl[1] - 11).attr('text-anchor', 'middle')
    .attr('font-size', 23).attr('fill', '#222').text(opts.corners[1]);
  panel.append('text').attr('x', pr[0] + opts.cornerShift[1]).attr('y', pr[1] - 15).attr('text-anchor', 'middle')
    .attr('font-size', 23).attr('fill', '#222').text(opts.corners[2]);
  panel.append('text').attr('x', opts.letterX).attr('y', 459)
    .style('font-family', '"Liberation Sans", Arial, sans-serif')
    .attr('font-weight', 'bold').attr('font-size', 19).text(`(${opts.letter})`);
};

const openStyle = (data, kind) => ({ data, kind, size: 40, fill: 'none', stroke: '#111' });

drawTernary({
  letter: 'c', left: 112, letterX: 95,
  corners: ['Hf/3', 'Th', 'Nb/16'], cornerShift: [63, -72],
  fields: hfFieldLines, fieldNames: hfFieldNames, fieldSpots: hfFieldSpots, rotated: 2,
  groups: [
    openStyle(hfTPT, 'circle'), openStyle(hfTY, 'square'), openStyle(hfLT, 'diamond'), openStyle(hfMA, 'up'),
    { data: hfTT, kind: 'circle', size: 40, fill: colors.darkGreen },
    { data: hfTTsmall, kind: 'circle', size: 12, fill: '#3a9a7a' },
    { data: hfLS, kind: 'up', size: 40, fill: colors.blue },
    { data: hfBI, kind: 'circle', size: 12, fill: '#888' },
    { data: hfSingu, kind: 'diamond', size: 34, fill: colors.pink },
    { data: hfKP, kind: 'right', size: 26, fill: colors.maroon }
  ]
});

drawTernary({
  letter: 'd', left: 572, letterX: 592,
  corners: ['2Nb', 'Zr/4', 'Y'], cornerShift: [55, -40],
  fields: nbFieldLines, fieldNames: nbFieldNames, fieldSpots: nbFieldSpots, rotated: -1,
  groups: [
    openStyle(nbTPT, 'circle'), openStyle(nbTY, 'square'), openStyle(nbLT, 'diamond'), openStyle(nbMA, 'up'),
    { data: nbTT, kind: 'circle', size: 40, fill: colors.darkGreen },
    { data: nbTK, kind: 'square', size: 36, fill: colors.darkGreen },
    { data: nbLS, kind: 'up', size: 40, fill: colors.blue },
    { data: nbBI, kind: 'down', size: 26, fill: colors.blue },
    { data: nbSingu, kind: 'diamond', size: 30, fill: colors.pink },
    { data: nbKP, kind: 'circle', size: 30, fill: colors.maroon }
  ]
});

svg.append('g').selectAll('text').data(abbreviations).enter().append('text')
  .attr('x', 414).attr('y', (d, i) => 502 + i * 16.6)
  .attr('font-size', 15).attr('fill', '#222')
  .text(d => d);
</script>
</body>
</html>
